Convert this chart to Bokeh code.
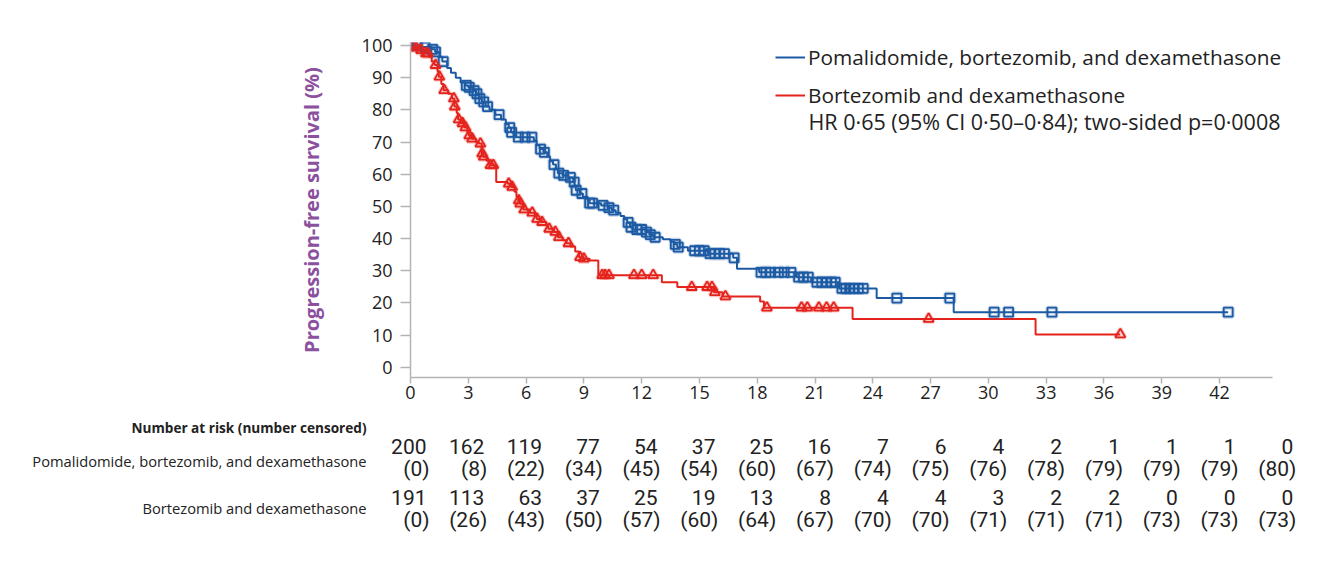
import numpy as np
from bokeh.plotting import figure
from bokeh.models import Range1d, FixedTicker, Legend, LegendItem, Label, LabelSet, ColumnDataSource
from bokeh.layouts import column
from bokeh.embed import file_html
from bokeh.resources import INLINE
from bokeh.core.properties import value

# ---------------- data ----------------
# Pomalidomide, bortezomib, and dexamethasone (step times in months, survival % after step)
pvd_t = [0, 0.5, 1.1, 1.28, 1.5, 1.65, 1.9, 2.1, 2.35, 2.6, 2.85, 3.0, 3.25, 3.4, 3.55,
         3.7, 3.9, 4.1, 4.4, 4.7, 4.95, 5.1, 5.22, 5.35, 5.5, 6.4, 6.55, 6.7, 6.9, 7.1,
         7.25, 7.4, 7.55, 7.65, 7.9, 8.2, 8.45, 8.52, 8.58, 8.8, 8.95, 9.2, 9.3, 9.9, 10.25,
         10.45, 10.65, 10.9, 11.1, 11.25, 11.4, 11.55, 12.2, 12.4, 12.6, 13.1, 13.5, 13.7, 13.85, 14.4,
         15.45, 16.75, 16.95, 18.1, 20.05, 20.8, 22.25, 24.2, 28.2]
pvd_s = [100, 99.5, 98.8, 98.0, 96.5, 95.0, 93.0, 91.5, 90.0, 88.5, 87.6, 87.0, 86.0, 85.0, 83.5,
         82.5, 81.0, 80.0, 78.5, 77.0, 75.5, 74.5, 73.0, 72.0, 71.5, 70.5, 69.0, 67.8, 66.8, 65.5,
         64.0, 63.0, 61.5, 60.3, 59.6, 59.0, 57.5, 56.5, 55.0, 54.0, 53.0, 52.0, 51.0, 50.3, 49.6,
         48.8, 48.0, 47.0, 46.0, 45.0, 43.5, 42.8, 42.0, 41.2, 40.4, 39.8, 39.0, 38.2, 37.3, 36.2,
         35.3, 34.0, 30.6, 29.5, 28.0, 26.4, 24.5, 21.5, 17.1]
pvd_end = 42.45
pvd_censor = [0.35, 0.75, 1.15, 1.3, 1.7, 2.9, 3.05, 3.3, 3.45, 3.6, 3.8, 4.0, 4.6, 5.15, 5.25,
              5.6, 5.95, 6.3, 6.75, 6.95, 7.45, 7.7, 7.95, 8.3, 8.5, 8.6, 8.9, 9.3, 9.45, 10.0,
              10.3, 10.55, 11.3, 11.45, 11.75, 12.0, 12.25, 12.45, 12.7, 13.75, 13.9, 14.75, 15.0,
              15.25, 15.55, 15.8, 16.05, 16.3, 16.8, 18.2, 18.45, 18.7, 19.1, 19.4, 19.75, 20.15,
              20.4, 20.65, 21.1, 21.35, 21.6, 21.85, 22.05, 22.4, 22.6, 22.8, 23.0, 23.25, 23.5,
              25.25, 28.0, 30.3, 31.05, 33.3, 42.45]

# Bortezomib and dexamethasone
vd_t = [0, 0.2, 0.5, 0.75, 0.95, 1.1, 1.25, 1.4, 1.47, 1.6, 1.72, 1.95, 2.15, 2.28, 2.4,
        2.47, 2.6, 2.8, 2.95, 3.03, 3.18, 3.4, 3.55, 3.7, 3.78, 3.95, 4.1, 4.45, 5.05, 5.25,
        5.4, 5.5, 5.6, 5.68, 5.85, 6.2, 6.45, 6.55, 6.8, 7.05, 7.15, 7.45, 7.65, 7.9, 8.1,
        8.3, 8.55, 8.75, 8.95, 9.3, 9.75, 13.05, 13.85, 15.75, 16.2, 18.15, 18.35, 22.95, 32.45]
vd_s = [100, 99.3, 98.5, 97.5, 96.5, 95.0, 93.9, 92.0, 90.3, 88.0, 86.1, 85.0, 83.5, 81.0, 79.0,
        77.0, 75.8, 74.5, 73.0, 72.0, 71.0, 70.0, 69.5, 66.4, 65.4, 64.2, 62.8, 57.6, 57.0, 56.0,
        54.5, 53.0, 51.8, 50.8, 49.0, 48.0, 47.0, 46.1, 45.1, 44.0, 43.0, 42.0, 40.4, 39.5, 38.5,
        37.5, 36.0, 34.2, 33.7, 33.2, 28.6, 26.4, 24.9, 23.3, 22.0, 20.4, 18.5, 15.0, 10.2]
vd_end = 36.85
vd_censor = [0.1, 0.3, 0.55, 0.8, 0.9, 1.3, 1.5, 1.75, 2.25, 2.3, 2.5, 2.7, 2.85, 3.05, 3.2,
             3.63, 3.72, 3.8, 4.15, 4.3, 5.1, 5.28, 5.62, 5.7, 5.9, 6.32, 6.57, 6.83, 7.2, 7.52,
             7.7, 8.2, 8.8, 9.0, 9.95, 10.1, 10.3, 11.6, 12.0, 12.6, 14.6, 15.4, 15.65, 15.8,
             16.35, 18.5, 20.3, 20.6, 21.2, 21.6, 21.97, 26.9, 36.85]

x_ticks = [0, 3, 6, 9, 12, 15, 18, 21, 24, 27, 30, 33, 36, 39, 42]
y_ticks = [0, 10, 20, 30, 40, 50, 60, 70, 80, 90, 100]

risk_months = [0, 3, 6, 9, 12, 15, 18, 21, 24, 27, 30, 33, 36, 39, 42, 45]
pvd_risk = [200, 162, 119, 77, 54, 37, 25, 16, 7, 6, 4, 2, 1, 1, 1, 0]
pvd_cens = [0, 8, 22, 34, 45, 54, 60, 67, 74, 75, 76, 78, 79, 79, 79, 80]
vd_risk = [191, 113, 63, 37, 25, 19, 13, 8, 4, 4, 3, 2, 2, 0, 0, 0]
vd_cens = [0, 26, 43, 50, 57, 60, 64, 67, 70, 70, 71, 71, 71, 73, 73, 73]

pvd_label = "Pomalidomide, bortezomib, and dexamethasone"
vd_label = "Bortezomib and dexamethasone"
hr_text = "HR 0\u00b765 (95% CI 0\u00b750\u20130\u00b784); two-sided p=0\u00b70008"
risk_title = "Number at risk (number censored)"
y_title = "Progression-free survival (%)"

# ---------------- style ----------------
BLUE = "#1c5aa4"
RED = "#e5231d"
PURPLE = "#8c509f"
GREY = "#b4b4b4"
TXT = "#222222"
FONT = "Open Sans"
NUMFONT = "Roboto"

W = 1318
BL, BR, BT, BB = 410, 8, 42, 40
FRAME_H = 335
KM_H = BT + FRAME_H + BB
TAB_H = 144
AX_END = 44.75                 # where the drawn x axis stops
PPM = 862 / AX_END             # pixels per month
X_END = (W - BL - BR) / PPM    # frame is wider so right-side texts are not clipped
Y0, Y1 = -3.2, 100.93
PPY = FRAME_H / (Y1 - Y0)


def step_at(ts, ss, q):
    idx = np.searchsorted(np.asarray(ts), np.asarray(q), side="right") - 1
    return list(np.asarray(ss)[idx])


p = figure(width=W, height=KM_H, x_range=Range1d(0, X_END), y_range=Range1d(Y0, Y1),
           output_backend="svg", toolbar_location=None,
           min_border_left=BL, min_border_right=BR, min_border_top=BT, min_border_bottom=BB)
p.outline_line_color = None
p.grid.visible = False
p.background_fill_color = "white"
p.border_fill_color = "white"

for ax in (p.xaxis[0], p.yaxis[0]):
    ax.axis_line_color = GREY
    ax.axis_line_width = 1.5
    ax.major_tick_line_color = GREY
    ax.major_tick_line_width = 1.5
    ax.minor_tick_line_color = None
    ax.major_tick_in = 0
    ax.major_label_text_font = FONT
    ax.major_label_text_font_size = "18px"
    ax.major_label_text_color = TXT

p.xaxis.ticker = FixedTicker(ticks=x_ticks)
p.xaxis.bounds = (0, AX_END)
p.xaxis.major_tick_out = 6
p.xaxis.major_label_standoff = 2
p.yaxis.ticker = FixedTicker(ticks=y_ticks)
p.yaxis.major_tick_out = 10
p.yaxis.major_label_standoff = 8
p.yaxis.axis_label = y_title
p.yaxis.axis_label_text_font = FONT
p.yaxis.axis_label_text_font_size = "20px"
p.yaxis.axis_label_text_font_style = "bold"
p.yaxis.axis_label_text_color = PURPLE
p.yaxis.axis_label_standoff = 34

# curves
pvd_line = p.step(pvd_t + [pvd_end], pvd_s + [pvd_s[-1]], mode="after", line_color=BLUE, line_width=2)
vd_line = p.step(vd_t + [vd_end], vd_s + [vd_s[-1]], mode="after", line_color=RED, line_width=2)

pvd_src = ColumnDataSource(dict(x=pvd_censor, y=step_at(pvd_t, pvd_s, pvd_censor)))
vd_src = ColumnDataSource(dict(x=vd_censor, y=step_at(vd_t, vd_s, vd_censor)))
p.scatter("x", "y", source=pvd_src, marker="square", size=9, fill_alpha=0,
          line_color=BLUE, line_width=4, line_alpha=0.25)
p.scatter("x", "y", source=pvd_src, marker="square", size=9, fill_alpha=0,
          line_color=BLUE, line_width=1.8)
p.scatter("x", "y", source=vd_src, marker="triangle", size=10, fill_alpha=0,
          line_color=RED, line_width=4, line_alpha=0.25)
p.scatter("x", "y", source=vd_src, marker="triangle", size=10, fill_alpha=0,
          line_color=RED, line_width=1.8)

legend = Legend(items=[LegendItem(label=pvd_label, renderers=[pvd_line]),
                       LegendItem(label=vd_label, renderers=[vd_line])],
                location=(365, 267), padding=0, margin=0, spacing=8,
                glyph_width=30, glyph_height=30, label_height=30, label_standoff=3,
                label_text_font=FONT, label_text_font_size="20.8px", label_text_color=TXT,
                label_text_baseline="alphabetic",
                border_line_color=None, background_fill_alpha=0)
p.add_layout(legend, "center")
p.add_layout(Label(x=(808 - BL) / PPM, y=Y1 - (121 - BT) / PPY,
                   text=hr_text, text_font=FONT, text_font_size="21.5px", text_color=TXT,
                   text_baseline="middle"))

# risk table: its own frame spans the full width, same pixels-per-month as the KM axis
t = figure(width=W, height=TAB_H, x_range=Range1d(-BL / PPM, (W - BL) / PPM),
           y_range=Range1d(TAB_H, 0), output_backend="svg", toolbar_location=None,
           x_axis_type=None, y_axis_type=None,
           min_border_left=0, min_border_right=0, min_border_top=0, min_border_bottom=0)
try:
    t.frame_align = False
    p.frame_align = False
except Exception:
    pass
t.outline_line_color = None
t.grid.visible = False
t.background_fill_color = "white"

rows = [(pvd_risk, pvd_cens, 29, 51, 43, pvd_label), (vd_risk, vd_cens, 80, 102, 90, vd_label)]
for risk, cens, yn, yc, yl, lab in rows:
    src_n = ColumnDataSource(dict(x=risk_months, y=[yn] * len(risk_months), text=[str(v) for v in risk]))
    src_c = ColumnDataSource(dict(x=risk_months, y=[yc] * len(risk_months), text=["(%d)" % v for v in cens]))
    t.add_layout(LabelSet(x="x", y="y", text="text", source=src_n, x_offset=16,
                          text_align="right", text_baseline="middle",
                          text_font=value(NUMFONT), text_font_size="21px", text_color=TXT))
    t.add_layout(LabelSet(x="x", y="y", text="text", source=src_c, x_offset=19,
                          text_align="right", text_baseline="middle",
                          text_font=value(NUMFONT), text_font_size="21px", text_color=TXT))
    t.add_layout(Label(x=0, y=yl, text=lab, text_align="right", text_baseline="middle", x_offset=-44,
                       text_font=FONT, text_font_size="14.7px", text_color=TXT))
t.add_layout(Label(x=0, y=10, text=risk_title, text_align="right", text_baseline="middle", x_offset=-44,
                   text_font=FONT, text_font_size="13.6px", text_font_style="bold", text_color=TXT))

layout = column(p, t, spacing=0)
open("out.html", "w").write(file_html(layout, INLINE))
